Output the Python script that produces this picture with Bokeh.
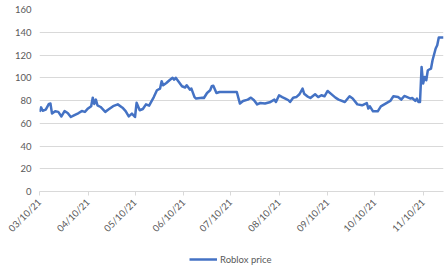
import math
import pandas as pd
from bokeh.plotting import figure
from bokeh.layouts import column
from bokeh.models import Range1d, FixedTicker, DatetimeTickFormatter, Legend, LegendItem
from bokeh.embed import file_html
from bokeh.resources import INLINE

series_name = "Roblox price"

dates = [
    "2021-03-10", "2021-03-11", "2021-03-12", "2021-03-14", "2021-03-16", "2021-03-17",
    "2021-03-18", "2021-03-20", "2021-03-22", "2021-03-24", "2021-03-26", "2021-03-28",
    "2021-03-30", "2021-04-01", "2021-04-04", "2021-04-06", "2021-04-08", "2021-04-10",
    "2021-04-12", "2021-04-13", "2021-04-14", "2021-04-15", "2021-04-16", "2021-04-18",
    "2021-04-21", "2021-04-23", "2021-04-26", "2021-04-29", "2021-05-02", "2021-05-04",
    "2021-05-06", "2021-05-08", "2021-05-10", "2021-05-11", "2021-05-13", "2021-05-15",
    "2021-05-17", "2021-05-19", "2021-05-22", "2021-05-24", "2021-05-26", "2021-05-27",
    "2021-05-28", "2021-05-30", "2021-06-01", "2021-06-03", "2021-06-04", "2021-06-05",
    "2021-06-07", "2021-06-09", "2021-06-11", "2021-06-12", "2021-06-14", "2021-06-15",
    "2021-06-17", "2021-06-18", "2021-06-22", "2021-06-23", "2021-06-25", "2021-06-27",
    "2021-06-28", "2021-06-29", "2021-07-01", "2021-07-03", "2021-07-12", "2021-07-14",
    "2021-07-16", "2021-07-18", "2021-07-21", "2021-07-23", "2021-07-25", "2021-07-27",
    "2021-07-29", "2021-08-01", "2021-08-04", "2021-08-07", "2021-08-08", "2021-08-10",
    "2021-08-12", "2021-08-14", "2021-08-16", "2021-08-17", "2021-08-19", "2021-08-21",
    "2021-08-23", "2021-08-25", "2021-08-26", "2021-08-28", "2021-08-30", "2021-09-02",
    "2021-09-04", "2021-09-06", "2021-09-08", "2021-09-10", "2021-09-12", "2021-09-15",
    "2021-09-17", "2021-09-21", "2021-09-24", "2021-09-26", "2021-09-29", "2021-10-02",
    "2021-10-05", "2021-10-06", "2021-10-07", "2021-10-09", "2021-10-12", "2021-10-14",
    "2021-10-17", "2021-10-20", "2021-10-22", "2021-10-25", "2021-10-27", "2021-10-29",
    "2021-11-02", "2021-11-03", "2021-11-05", "2021-11-06", "2021-11-07", "2021-11-08",
    "2021-11-09", "2021-11-10", "2021-11-11", "2021-11-12", "2021-11-13", "2021-11-15",
    "2021-11-16", "2021-11-18", "2021-11-19", "2021-11-20", "2021-11-23",
]

prices = [
    70, 74, 71, 72, 77, 77.3,
    68.5, 70.5, 70, 66, 70.7, 69,
    65.5, 67, 69, 70.7, 70, 73,
    75, 82.5, 77, 80.8, 75.8, 74.3,
    70, 72, 75, 76.6, 73.7, 70.7,
    66, 68.5, 65.5, 78, 71.4, 72.5,
    76.6, 75.5, 83, 89, 90.5, 97,
    93.4, 95.4, 97.8, 100, 98.4, 100,
    96.3, 92.5, 91.4, 93.4, 89.6, 90.5,
    83, 81.7, 82.5, 82.2, 86.6, 89,
    92.5, 93, 86.6, 87.5, 87.5, 87.5,
    77.3, 79.6, 80.8, 82.5, 80.2, 76.6,
    77.8, 77.3, 78.4, 80.8, 78.7, 84.6,
    83, 81.7, 80.2, 78.7, 82.5, 83,
    85.5, 90.5, 86, 83.7, 82.2, 85.5,
    83, 84.6, 83.7, 88.4, 86, 82.5,
    80.8, 78.7, 83.7, 81.7, 76.6, 75.8,
    77.8, 72.9, 74.9, 70.5, 70.5, 74.9,
    77.3, 79.6, 83.7, 83, 80.8, 84,
    81.7, 82.2, 79.6, 81.7, 78.7, 78.7,
    109.5, 94.9, 100.7, 97.8, 106.6, 108,
    115.4, 125.7, 128.6, 135.4, 135.4,
]

tick_labels = ["03/10/21", "04/10/21", "05/10/21", "06/10/21", "07/10/21",
               "08/10/21", "09/10/21", "10/10/21", "11/10/21"]
y_ticks = [0, 20, 40, 60, 80, 100, 120, 140, 160]

x = pd.to_datetime(dates)
tick_dates = pd.to_datetime(tick_labels, format="%m/%d/%y")
tick_ms = [t.value / 1e6 for t in tick_dates]

FONT = "Lato"
GREY = "#595959"
GRID = "#d9d9d9"
BLUE = "#4472C4"

p = figure(width=446, height=250, x_axis_type="datetime",
           output_backend="svg", toolbar_location=None,
           min_border_left=39, min_border_right=3, min_border_top=9, min_border_bottom=59,
           x_range=Range1d(x[0], x[-1]), y_range=Range1d(y_ticks[0], y_ticks[-1]))
p.outline_line_color = None
p.background_fill_color = "white"
p.border_fill_color = "white"

r = p.line(x, prices, line_color=BLUE, line_width=2.5, line_join="round")

p.xaxis.ticker = FixedTicker(ticks=tick_ms)
p.xaxis.formatter = DatetimeTickFormatter(
    milliseconds="%m/%d/%y", seconds="%m/%d/%y", minsec="%m/%d/%y", minutes="%m/%d/%y",
    hourmin="%m/%d/%y", hours="%m/%d/%y", days="%m/%d/%y", months="%m/%d/%y", years="%m/%d/%y")
p.xaxis.major_label_orientation = math.pi / 4
p.xaxis.axis_line_color = GRID
p.xaxis.major_tick_line_color = GRID
p.xaxis.major_tick_out = 4
p.xaxis.major_tick_in = 0
p.xaxis.minor_tick_line_color = None
p.xaxis.major_label_text_font = FONT
p.xaxis.major_label_text_font_size = "9.5px"
p.xaxis.major_label_text_color = GREY
p.xaxis.major_label_standoff = 5
p.xgrid.grid_line_color = None

p.yaxis.ticker = FixedTicker(ticks=y_ticks)
p.yaxis.axis_line_color = None
p.yaxis.major_tick_line_color = None
p.yaxis.major_tick_out = 0
p.yaxis.major_tick_in = 0
p.yaxis.minor_tick_line_color = None
p.yaxis.major_label_text_font = FONT
p.yaxis.major_label_text_font_size = "9.5px"
p.yaxis.major_label_text_color = GREY
p.yaxis.major_label_standoff = 8
p.ygrid.grid_line_color = GRID
p.ygrid.grid_line_width = 1

# legend strip below the chart (its line lies outside the strip's view, only the key shows)
lg = figure(width=446, height=19, output_backend="svg", toolbar_location=None,
            x_axis_location=None, y_axis_location=None,
            x_range=Range1d(0, 1), y_range=Range1d(0, 1),
            min_border_left=0, min_border_right=0, min_border_top=0, min_border_bottom=0)
lg.outline_line_color = None
lg.xgrid.grid_line_color = None
lg.ygrid.grid_line_color = None
lg.background_fill_color = "white"
lg.border_fill_color = "white"
r2 = lg.line(x=[5, 6], y=[5, 5], line_color=BLUE, line_width=2.5)

legend = Legend(items=[LegendItem(label=series_name, renderers=[r2])],
                location=(150, 4), orientation="horizontal",
                border_line_color=None, background_fill_alpha=0,
                padding=0, margin=0, spacing=0,
                glyph_width=28, glyph_height=12, label_height=12,
                label_standoff=3, label_text_font=FONT,
                label_text_font_size="9.5px", label_text_color=GREY)
lg.add_layout(legend, "center")

layout = column(p, lg, spacing=0)
open("out.html", "w").write(file_html(layout, INLINE))
